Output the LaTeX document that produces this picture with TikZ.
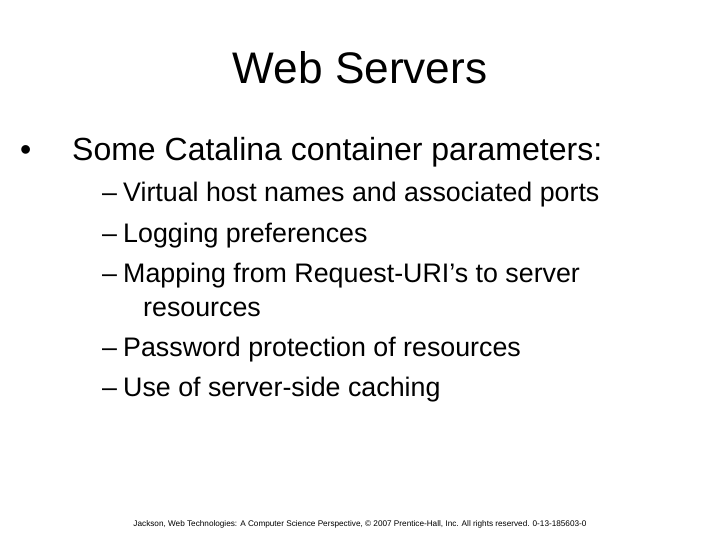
\documentclass[tikz,border=0pt]{standalone}
\usepackage{fontspec}
\setmainfont{Liberation Sans}
\begin{document}
\begin{tikzpicture}[x=1pt,y=-1pt,
  txt/.style={anchor=base west,inner sep=0pt},
  lvlone/.style={txt,font=\fontsize{32}{36}\selectfont},
  lvltwo/.style={txt,font=\fontsize{26.8}{30}\selectfont}]
\useasboundingbox[fill=white] (0,0) rectangle (720,540);
\node[anchor=base,inner sep=0pt,font=\fontsize{44.2}{50}\selectfont] (title) at (360,84) {Web Servers};
\node[lvlone] (b) at (20,161) {•};
\node[lvlone] (b1) at (72,161) {Some Catalina container parameters:};
\node[lvltwo] (d1) at (102,202) {–};
\node[lvltwo] (s1) at (123,202) {Virtual host names and associated ports};
\node[lvltwo] (d2) at (102,242) {–};
\node[lvltwo] (s2) at (123,242) {Logging preferences};
\node[lvltwo] (d3) at (102,282) {–};
\node[lvltwo] (s3) at (123,282) {Mapping from Request-URI’s to server};
\node[lvltwo] (s3b) at (143,316) {resources};
\node[lvltwo] (d4) at (102,356) {–};
\node[lvltwo] (s4) at (123,356) {Password protection of resources};
\node[lvltwo] (d5) at (102,396) {–};
\node[lvltwo] (s5) at (123,396) {Use of server-side caching};
\node[anchor=base,inner sep=0pt,font=\fontsize{8.2}{10}\selectfont] (foot) at (360,526) {Jackson, Web Technologies: A Computer Science Perspective, © 2007 Prentice-Hall, Inc. All rights reserved. 0-13-185603-0};
\end{tikzpicture}
\end{document}
